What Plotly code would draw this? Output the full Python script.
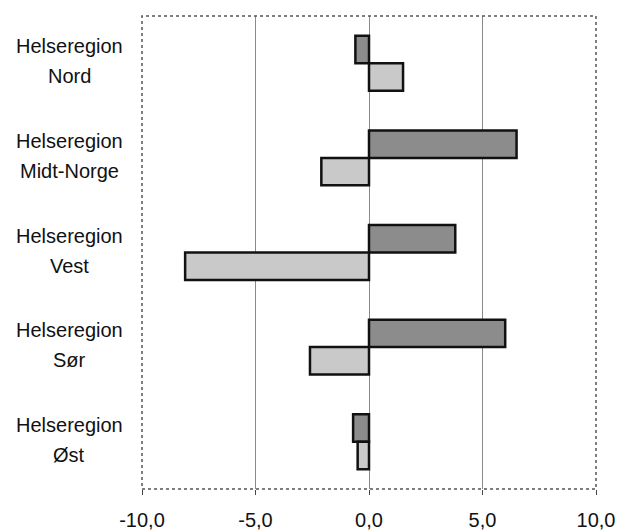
import plotly.graph_objects as go

label_prefix = "Helseregion"
cat_ids = ["Nord", "Midt-Norge", "Vest", "Sør", "Øst"]
series_dark = [-0.6, 6.5, 3.8, 6.0, -0.7]
series_light = [1.5, -2.1, -8.1, -2.6, -0.5]
x_ticks = [-10, -5, 0, 5, 10]
x_tick_labels = ["-10,0", "-5,0", "0,0", "5,0", "10,0"]

FONT = "Liberation Sans, Arial"

fig = go.Figure()
fig.add_trace(go.Bar(y=cat_ids, x=series_dark, orientation="h",
                     marker=dict(color="#8c8c8c", line=dict(color="#111111", width=2.5)),
                     showlegend=False))
fig.add_trace(go.Bar(y=cat_ids, x=series_light, orientation="h",
                     marker=dict(color="#c9c9c9", line=dict(color="#111111", width=2.5)),
                     showlegend=False))

for cid in cat_ids:
    fig.add_annotation(x=-0.16, xref="paper", y=cid, yref="y", text=label_prefix,
                       showarrow=False, xanchor="center", yanchor="middle",
                       yshift=17, font=dict(family=FONT, size=20, color="#111111"))
    fig.add_annotation(x=-0.16, xref="paper", y=cid, yref="y", text=cid,
                       showarrow=False, xanchor="center", yanchor="middle",
                       yshift=-13, font=dict(family=FONT, size=20, color="#111111"))

fig.add_shape(type="rect", xref="paper", yref="paper", x0=0, x1=1, y0=0, y1=1,
              line=dict(color="#555555", width=1.5, dash="dot"), layer="above")

fig.update_layout(
    width=619, height=531,
    margin=dict(l=142, r=23, t=16, b=42),
    paper_bgcolor="white", plot_bgcolor="white",
    barmode="group", bargap=0.42, bargroupgap=0,
    font=dict(family=FONT, size=19, color="#111111"),
    xaxis=dict(range=[-10, 10], tickvals=x_ticks, ticktext=x_tick_labels,
               showgrid=True, gridcolor="#8a8a8a", gridwidth=1,
               zeroline=True, zerolinecolor="#8a8a8a", zerolinewidth=1,
               showline=False, ticks="outside", ticklen=5, tickcolor="#444444",
               tickfont=dict(size=20), ticklabelstandoff=8, automargin=False),
    yaxis=dict(autorange="reversed", showticklabels=False, showgrid=False,
               zeroline=False, showline=False, ticks="", automargin=False),
)

fig.write_html("out.html")
